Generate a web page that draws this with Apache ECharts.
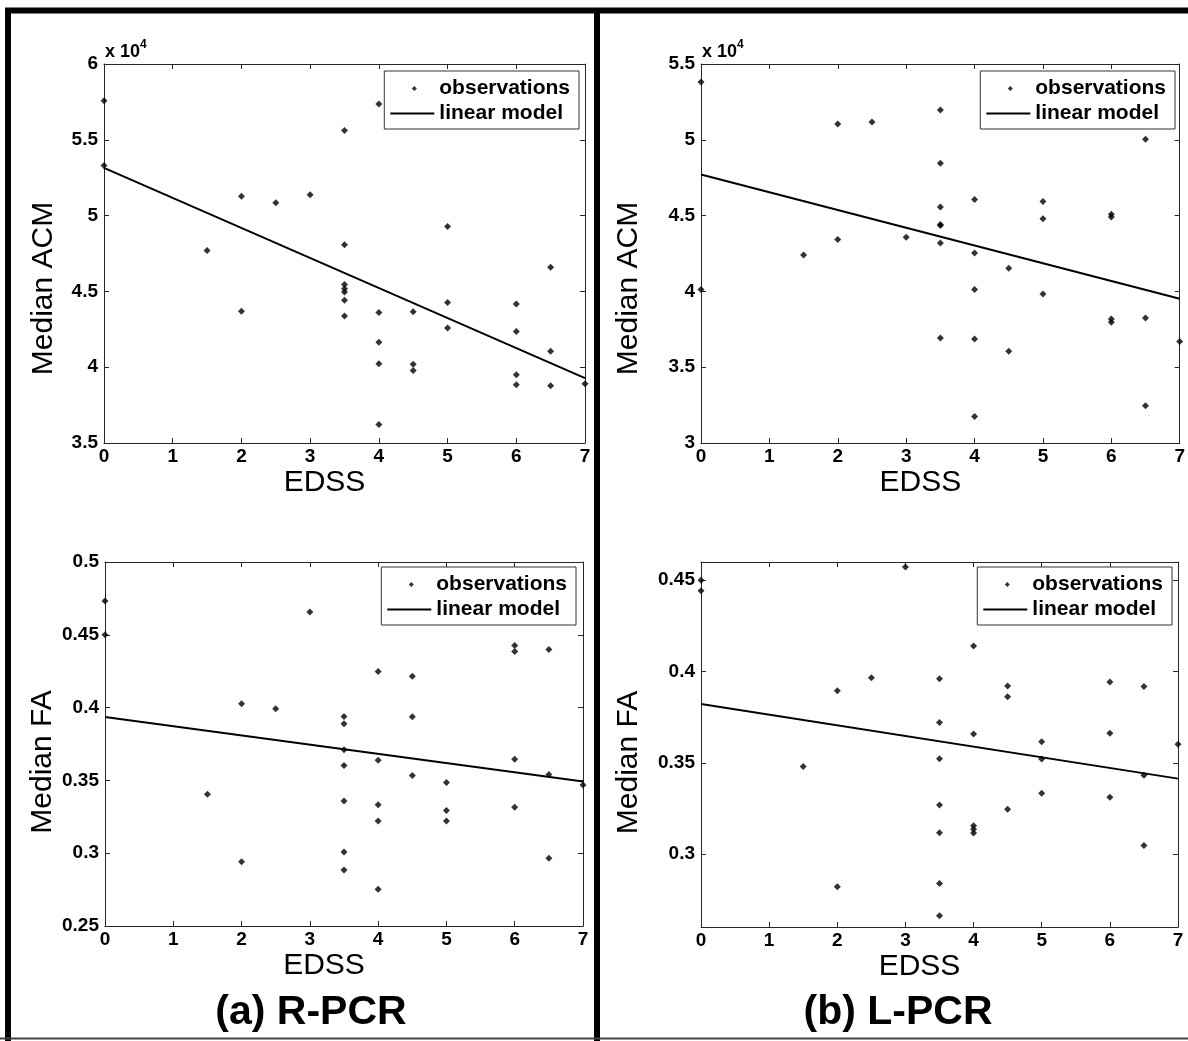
<!DOCTYPE html>
<html>
<head>
<meta charset="utf-8">
<script src="https://cdn.jsdelivr.net/npm/echarts@6/dist/echarts.min.js"></script>
<style>html,body{margin:0;padding:0;background:#fff}#c{width:1188px;height:1041px}</style>
</head>
<body>
<div id="c"></div>
<script>
// ---------------- data ----------------
// (a) R-PCR, Median ACM (raw units, axis shown as x 10^4)
const obsR_ACM = [
  [0,57580],[0,53310],[1.5,47690],[2,51280],[2,43690],[2.5,50840],[3,51370],
  [3.5,55620],[3.5,48070],[3.5,45450],[3.5,45180],[3.5,44960],[3.5,44410],[3.5,43380],
  [4,57360],[4,43600],[4,41640],[4,40230],[4,36220],
  [4.5,43660],[4.5,40190],[4.5,39790],
  [5,49280],[5,44260],[5,42590],
  [6,44170],[6,42360],[6,39500],[6,38840],
  [6.5,46590],[6.5,41060],[6.5,38780],
  [7,38910]
];
const fitR_ACM = [[0,53150],[7,39280]];

// (b) L-PCR, Median ACM
const obsL_ACM = [
  [0,53810],[0,40120],[1.5,42400],[2,51040],[2,43420],[2.5,51170],[3,43570],
  [3.5,51960],[3.5,48460],[3.5,45560],[3.5,44410],[3.5,44350],[3.5,43200],[3.5,36920],
  [4,46060],[4,42540],[4,40120],[4,36860],[4,31750],
  [4.5,41530],[4.5,36060],
  [5,45930],[5,44790],[5,39830],
  [6,45090],[6,44910],[6,38180],[6,37960],
  [6.5,50030],[6.5,38240],[6.5,32460],
  [7,36700]
];
const fitL_ACM = [[0,47710],[7,39520]];

// (a) R-PCR, Median FA
const obsR_FA = [
  [0,0.4732],[0,0.45],[1.5,0.3405],[2,0.4026],[2,0.2942],[2.5,0.3992],[3,0.4656],
  [3.5,0.3939],[3.5,0.3889],[3.5,0.3710],[3.5,0.3602],[3.5,0.3359],[3.5,0.3009],[3.5,0.2885],
  [4,0.4248],[4,0.3639],[4,0.3332],[4,0.3222],[4,0.2753],
  [4.5,0.4216],[4.5,0.3937],[4.5,0.3533],
  [5,0.3485],[5,0.3293],[5,0.3222],
  [6,0.4427],[6,0.4386],[6,0.3646],[6,0.3316],
  [6.5,0.4399],[6.5,0.3540],[6.5,0.2966],
  [7,0.3469]
];
const fitR_FA = [[0,0.3935],[7,0.3492]];

// (b) L-PCR, Median FA
const obsL_FA = [
  [0,0.45],[0,0.4442],[1.5,0.348],[2,0.3895],[2,0.282],[2.5,0.3966],[3,0.4573],
  [3.5,0.396],[3.5,0.372],[3.5,0.3522],[3.5,0.3269],[3.5,0.3116],[3.5,0.2838],[3.5,0.2662],
  [4,0.414],[4,0.3658],[4,0.3155],[4,0.3135],[4,0.3115],
  [4.5,0.392],[4.5,0.3862],[4.5,0.3245],
  [5,0.3615],[5,0.352],[5,0.3333],
  [6,0.3942],[6,0.3662],[6,0.3311],
  [6.5,0.3918],[6.5,0.3431],[6.5,0.3047],
  [7,0.3601]
];
const fitL_FA = [[0,0.3822],[7,0.3413]];

// tick values
const faTicksL = [0.3, 0.35, 0.4, 0.45];

// ---------------- chart ----------------
const FONT = '"Liberation Sans", Arial, Helvetica, sans-serif';
const AX = '#262626';
const LBL = 19;
const chart = echarts.init(document.getElementById('c'), null, {renderer: 'canvas'});

const grids = [
  {left: 104, top: 64, width: 481, height: 379},
  {left: 701, top: 64, width: 479, height: 379},
  {left: 105, top: 562, width: 478, height: 364},
  {left: 701, top: 562, width: 477, height: 365}
];

function bottomX(g) {
  return {
    type: 'value', gridIndex: g, position: 'bottom', min: 0, max: 7, interval: 1,
    axisLine: {show: true, onZero: false, lineStyle: {color: AX, width: 1}},
    axisTick: {show: true, inside: true, length: 5, lineStyle: {color: AX}},
    axisLabel: {margin: 4, color: '#000', fontFamily: FONT, fontWeight: 'bold', fontSize: LBL},
    splitLine: {show: false},
    name: 'EDSS', nameLocation: 'middle', nameGap: 25,
    nameTextStyle: {fontFamily: FONT, fontSize: 30, color: '#000', padding: [0, 40, 0, 0]}
  };
}
function topX(g) {
  return {
    type: 'value', gridIndex: g, position: 'top', min: 0, max: 7, interval: 1,
    axisLine: {show: true, onZero: false, lineStyle: {color: AX, width: 1}},
    axisTick: {show: true, inside: true, length: 5, lineStyle: {color: AX}},
    axisLabel: {show: false}, splitLine: {show: false}
  };
}
function leftY(g, o) {
  const ax = {
    type: 'value', gridIndex: g, position: 'left', min: o.min, max: o.max,
    axisLine: {show: true, onZero: false, lineStyle: {color: AX, width: 1}},
    axisTick: {show: true, inside: true, length: 5, lineStyle: {color: AX}},
    axisLabel: {margin: 6, color: '#000', fontFamily: FONT, fontWeight: 'bold', fontSize: LBL},
    splitLine: {show: false},
    name: o.name, nameLocation: 'middle', nameGap: o.gap,
    nameTextStyle: {fontFamily: FONT, fontSize: 30, color: '#000', padding: [0, o.shift, 0, 0]}
  };
  if (o.interval) ax.interval = o.interval;
  if (o.custom) { ax.axisLabel.customValues = o.custom; ax.axisTick.customValues = o.custom; }
  if (o.fmt) ax.axisLabel.formatter = o.fmt;
  return ax;
}
function rightY(g, o) {
  const ax = {
    type: 'value', gridIndex: g, position: 'right', min: o.min, max: o.max,
    axisLine: {show: true, onZero: false, lineStyle: {color: AX, width: 1}},
    axisTick: {show: true, inside: true, length: 5, lineStyle: {color: AX}},
    axisLabel: {show: false}, splitLine: {show: false}
  };
  if (o.interval) ax.interval = o.interval;
  if (o.custom) { ax.axisLabel.customValues = o.custom; ax.axisTick.customValues = o.custom; }
  return ax;
}

const sci = v => String(Math.round(v / 1000) / 10);
const yOpts = [
  {min: 35000, max: 60000, interval: 5000, fmt: sci, name: 'Median ACM', gap: 45, shift: 70},
  {min: 30000, max: 55000, interval: 5000, fmt: sci, name: 'Median ACM', gap: 57, shift: 70},
  {min: 0.25, max: 0.5, interval: 0.05, name: 'Median FA', gap: 47, shift: 36},
  {min: 0.26, max: 0.46, custom: faTicksL, name: 'Median FA', gap: 57, shift: 36}
];

const obsSets = [obsR_ACM, obsL_ACM, obsR_FA, obsL_FA];
const fitSets = [fitR_ACM, fitL_ACM, fitR_FA, fitL_FA];

const series = [];
for (let g = 0; g < 4; g++) {
  series.push({
    name: 'observations', type: 'scatter', xAxisIndex: g, yAxisIndex: g,
    symbol: 'diamond', symbolSize: 7, data: obsSets[g],
    itemStyle: {color: '#000'}, clip: false, z: 3
  });
  series.push({
    name: 'linear model', type: 'line', xAxisIndex: g, yAxisIndex: g,
    data: fitSets[g], showSymbol: false, symbol: 'none',
    lineStyle: {color: '#000', width: 2}, itemStyle: {color: '#000'}, z: 4
  });
}

const dotIcon = 'path://M0 0M44 10M24 2.5L26.5 5L24 7.5L21.5 5Z';
const lineIcon = 'path://M0 0M44 10M0 4.1L44 4.1L44 5.9L0 5.9Z';
function legend(right, top) {
  return {
    orient: 'vertical', right: right, top: top,
    padding: [7, 9, 5, 6], itemGap: 4, itemWidth: 44, itemHeight: 10,
    borderColor: '#333', borderWidth: 1, backgroundColor: '#fff',
    selectedMode: false,
    textStyle: {fontFamily: FONT, fontWeight: 'bold', fontSize: 21, color: '#000'},
    data: [{name: 'observations', icon: dotIcon}, {name: 'linear model', icon: lineIcon}]
  };
}

function txt(x, y, s, size, weight, align, vAlign) {
  return {type: 'text', x: x, y: y, z: 100,
    style: {text: s, fontFamily: FONT, fontSize: size, fontWeight: weight, fill: '#000',
      align: align || 'left', verticalAlign: vAlign || 'middle'}};
}
function seg(x1, y1, x2, y2, w, c) {
  return {type: 'line', z: 100, shape: {x1, y1, x2, y2}, style: {stroke: c || '#000', lineWidth: w}};
}

const option = {
  animation: false,
  backgroundColor: '#fff',
  grid: grids.map(g => Object.assign({containLabel: false}, g)),
  xAxis: [bottomX(0), bottomX(1), bottomX(2), bottomX(3), topX(0), topX(1), topX(2), topX(3)],
  yAxis: [leftY(0, yOpts[0]), leftY(1, yOpts[1]), leftY(2, yOpts[2]), leftY(3, yOpts[3]),
          rightY(0, yOpts[0]), rightY(1, yOpts[1]), rightY(2, yOpts[2]), rightY(3, yOpts[3])],
  legend: [legend(609, 71), legend(13, 71), legend(612, 567), legend(16, 567)],
  series: series,
  graphic: [
    seg(5, 10.5, 1188, 10.5, 6),
    seg(8, 8, 8, 1041, 6),
    seg(597, 8, 597, 1041, 6),
    seg(0, 1038.5, 1188, 1038.5, 2, '#444'),
    txt(105, 52, 'x 10', 18, 'bold'),
    txt(140, 45, '4', 12, 'bold'),
    txt(702, 52, 'x 10', 18, 'bold'),
    txt(737, 45, '4', 12, 'bold'),
    txt(311, 1013, '(a) R-PCR', 41, 'bold', 'center'),
    txt(898, 1013, '(b) L-PCR', 41, 'bold', 'center')
  ]
};
chart.setOption(option);
</script>
</body>
</html>
